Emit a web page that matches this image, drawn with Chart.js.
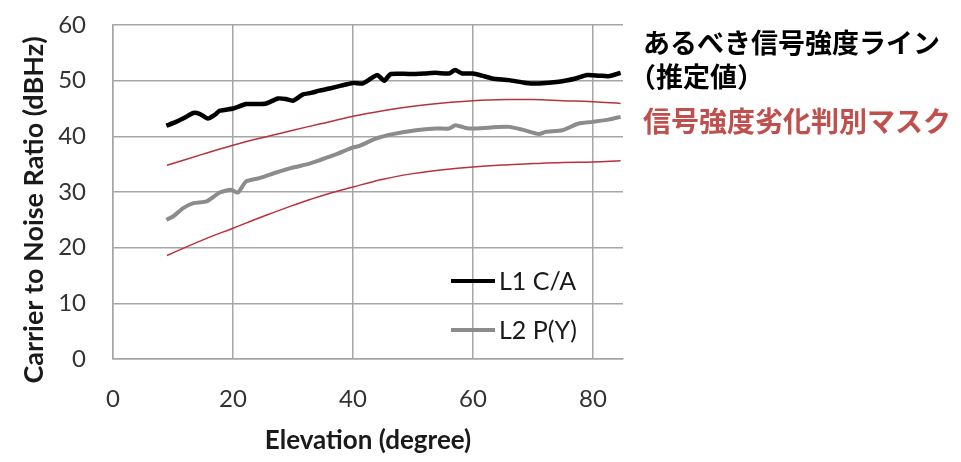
<!DOCTYPE html>
<html>
<head>
<meta charset="utf-8">
<script src="https://cdn.jsdelivr.net/npm/chart.js@4.4.1/dist/chart.umd.min.js"></script>
<style>
    body { margin: 0; background: #fff; }
    #wrap { position: relative; width: 961px; height: 462px; }
    .note { position: absolute; font-family: "Noto Sans CJK JP"; font-weight: bold; white-space: nowrap; line-height: 1; }
</style>
</head>
<body>
<div id="wrap">
    <canvas id="cnChart" width="961" height="462"></canvas>
    <div class="note" style="left:643px; top:28px; font-size:27px; color:#000;">あるべき信号強度ライン</div>
    <div class="note" style="left:629px; top:62px; font-size:27px; color:#000;">（推定値）</div>
    <div class="note" style="left:643px; top:106px; font-size:28px; color:#c0504d;">信号強度劣化判別マスク</div>
</div>
<script>
// L1 C/A measured C/N0
const l1Elev = [8.9, 10.5, 12, 13.4, 14.5, 15.8, 17, 17.8, 20, 22.2, 24, 25.5, 27.5, 28.8, 30, 31.6, 33, 34.4,
    36.1, 38, 40, 41.6, 43, 44.1, 45.2, 46.3, 49.4, 52, 53.8, 56, 57, 58.2, 60, 61.5, 63.2, 66, 68.8, 71,
    74.3, 77.1, 79, 81, 82.6, 84.6];
const l1Cn = [41.9, 42.6, 43.4, 44.2, 44.0, 43.2, 43.9, 44.6, 45.0, 45.8, 45.8, 45.9, 46.8, 46.7, 46.4, 47.5, 47.8, 48.2,
    48.6, 49.1, 49.6, 49.5, 50.4, 51.0, 50.0, 51.2, 51.2, 51.3, 51.4, 51.3, 51.9, 51.3, 51.3, 50.9, 50.4, 50.1, 49.6, 49.5,
    49.8, 50.4, 51.0, 50.9, 50.8, 51.4];

// L2 P(Y) measured C/N0
const l2Elev = [8.9, 10, 11.7, 13.4, 15.6, 17.8, 19.7, 20.8, 22.2, 24.4, 27.2, 30, 32.8, 34.4, 37, 40, 41.1, 43.8,
    46.6, 50.5, 53.8, 56, 57.1, 58.8, 60, 63, 66, 68.2, 71, 72.1, 74.9, 77.6, 79.9, 82.6, 84.6];
const l2Cn = [25.0, 25.6, 27.1, 28.0, 28.3, 29.9, 30.4, 29.9, 31.9, 32.5, 33.5, 34.4, 35.1, 35.7, 36.7, 38.0, 38.3, 39.6,
    40.4, 41.1, 41.4, 41.4, 42.0, 41.5, 41.4, 41.6, 41.7, 41.2, 40.4, 40.8, 41.1, 42.3, 42.6, 43.0, 43.5];

// degradation masks
const maskElev = [9, 15, 20, 25, 30, 34.4, 40, 45, 50, 55, 60, 66, 70, 75, 80, 84.6];
const maskUpper = [34.8, 36.8, 38.4, 39.8, 41.1, 42.2, 43.6, 44.6, 45.4, 46.0, 46.4, 46.6, 46.6, 46.4, 46.2, 45.9];
const maskLower = [18.6, 21.4, 23.5, 25.6, 27.6, 29.2, 30.9, 32.3, 33.3, 34.0, 34.5, 34.9, 35.1, 35.3, 35.4, 35.6];

const xTicks = [0, 20, 40, 60, 80];
const yTicks = [0, 10, 20, 30, 40, 50, 60];
const xTitle = "Elevation (degree)";
const yTitle = "Carrier to Noise Ratio (dBHz)";

function toPoints(xs, ys) {
    return xs.map((x, i) => ({x: x, y: ys[i]}));
}

const GRID = "#a6a6a6";
const LABEL_FONT = "Lato";

// y title and in-plot legend
const extras = {
    id: "extras",
    afterDraw(chart) {
        const ctx = chart.ctx;
        const area = chart.chartArea;
        ctx.save();
        ctx.translate(34, 210);
        ctx.rotate(-Math.PI / 2);
        ctx.font = "bold 27px " + LABEL_FONT;
        ctx.fillStyle = "#1a1a1a";
        ctx.textAlign = "center";
        ctx.textBaseline = "middle";
        ctx.fillText(yTitle, 0, 0);
        ctx.restore();

        const items = chart.data.datasets.slice(0, 2);
        ctx.save();
        ctx.font = "25px " + LABEL_FONT;
        ctx.textBaseline = "middle";
        ctx.fillStyle = "#1a1a1a";
        items.forEach((ds, i) => {
            const y = area.bottom - 78 + i * 49;
            const x0 = area.right - 172;
            ctx.strokeStyle = ds.borderColor;
            ctx.lineWidth = 4;
            ctx.beginPath();
            ctx.moveTo(x0, y);
            ctx.lineTo(x0 + 44, y);
            ctx.stroke();
            ctx.fillText(ds.label, x0 + 48, y + 1);
        });
        ctx.restore();
    }
};

const ctx = document.getElementById("cnChart").getContext("2d");
new Chart(ctx, {
    type: "line",
    data: {
        datasets: [{
            label: "L1 C/A",
            data: toPoints(l1Elev, l1Cn),
            borderColor: "#000000",
            borderWidth: 4.5,
            tension: 0.2,
        }, {
            label: "L2 P(Y)",
            data: toPoints(l2Elev, l2Cn),
            borderColor: "#8c8c8c",
            borderWidth: 4,
            tension: 0.2,
        }, {
            label: "mask upper",
            data: toPoints(maskElev, maskUpper),
            borderColor: "#b8323c",
            borderWidth: 1.5,
            tension: 0.4,
        }, {
            label: "mask lower",
            data: toPoints(maskElev, maskLower),
            borderColor: "#b8323c",
            borderWidth: 1.5,
            tension: 0.4,
        }]
    },
    options: {
        responsive: false,
        animation: false,
        devicePixelRatio: 1,
        layout: {padding: {left: 0, top: 25, right: 338, bottom: 0}},
        elements: {point: {radius: 0}},
        plugins: {legend: {display: false}, tooltip: {enabled: false}},
        scales: {
            x: {
                type: "linear",
                min: 0,
                max: 85,
                afterBuildTicks: (scale) => { scale.ticks = xTicks.map(v => ({value: v})); },
                afterFit: (scale) => { scale.height = 103; },
                grid: {color: GRID, lineWidth: 1.5, drawTicks: true, tickLength: 23, tickColor: "rgba(0,0,0,0)"},
                border: {color: GRID, width: 1.5},
                ticks: {padding: 3, color: "#333", font: {family: LABEL_FONT, size: 24}},
                title: {display: true, text: xTitle, color: "#1a1a1a", padding: {bottom: 6},
                    font: {family: LABEL_FONT, size: 26, weight: "bold"}},
            },
            y: {
                min: 0,
                max: 60,
                afterBuildTicks: (scale) => { scale.ticks = yTicks.map(v => ({value: v})); },
                afterFit: (scale) => { scale.width = 113; },
                grid: {color: GRID, lineWidth: 1.5, drawTicks: true, tickLength: 24, tickColor: "rgba(0,0,0,0)"},
                border: {color: GRID, width: 1.5},
                ticks: {padding: 3, color: "#333", font: {family: LABEL_FONT, size: 24}},
            }
        }
    },
    plugins: [extras],
});
</script>
</body>
</html>
